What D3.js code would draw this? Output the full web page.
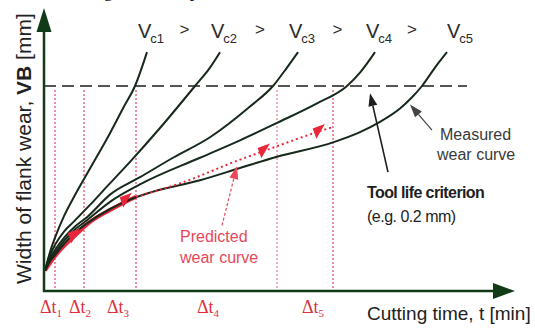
<!DOCTYPE html>
<html>
<head>
<meta charset="utf-8">
<script src="https://cdn.jsdelivr.net/npm/d3@7"></script>
<style>
  html, body { margin: 0; padding: 0; background: #fff; }
  svg { display: block; font-family: "Liberation Sans", Arial, sans-serif; }
</style>
</head>
<body>
<div id="chart"></div>
<script>
// cutting speed index for each measured curve (vc1 > vc2 > ... > vc5)
const speedLabels = ['c1', 'c2', 'c3', 'c4', 'c5'];

// cutting time t [min] and flank wear VB [mm]
const vc1Time = [0.1, 0.6, 1.1, 2.0, 2.9, 4.1, 5.1, 6.6, 8.0, 9.1, 10.3];
const vc1Wear = [0.020, 0.038, 0.052, 0.073, 0.090, 0.111, 0.128, 0.154, 0.180, 0.200, 0.233];
const vc2Time = [0.1, 0.6, 1.1, 2.0, 2.9, 4.6, 6.4, 8.6, 11.6, 15.1, 16.6, 17.6];
const vc2Wear = [0.020, 0.035, 0.045, 0.058, 0.067, 0.084, 0.103, 0.126, 0.159, 0.200, 0.218, 0.233];
const vc3Time = [0.1, 0.6, 1.1, 2.1, 3.1, 4.3, 6.6, 9.6, 12.9, 16.6, 20.6, 22.9, 24.3, 25.4];
const vc3Wear = [0.020, 0.032, 0.040, 0.053, 0.063, 0.072, 0.094, 0.111, 0.130, 0.150, 0.180, 0.200, 0.218, 0.233];
const vc4Time = [0.1, 0.6, 1.1, 2.1, 3.1, 4.3, 6.6, 9.6, 15.6, 19.6, 23.3, 27.3, 30.3, 31.6, 33.1];
const vc4Wear = [0.020, 0.030, 0.037, 0.050, 0.060, 0.069, 0.087, 0.104, 0.130, 0.147, 0.164, 0.183, 0.200, 0.213, 0.233];
const vc5Time = [0.1, 0.6, 1.1, 2.1, 3.1, 4.3, 6.6, 8.3, 10.6, 15.6, 19.6, 23.3, 28.9, 31.6, 33.6, 35.6, 36.8, 37.8, 39.1, 40.3];
const vc5Wear = [0.020, 0.029, 0.035, 0.047, 0.057, 0.066, 0.080, 0.088, 0.096, 0.108, 0.120, 0.131, 0.145, 0.155, 0.165, 0.178, 0.189, 0.200, 0.218, 0.233];

// predicted wear curve: measured part, then extrapolated (dotted)
const predTime = [0.1, 1.1, 3.1, 4.3, 6.6, 9.2];
const predWear = [0.020, 0.034, 0.054, 0.065, 0.079, 0.092];
const extraTime = [9.2, 13.6, 19.3, 22.1, 27.6, 28.9];
const extraWear = [0.092, 0.105, 0.127, 0.137, 0.156, 0.160];
const predArrowTime = [3.1, 8.3, 22.1, 27.6];
const predArrowWear = [0.054, 0.089, 0.137, 0.156];

// time intervals
const intervalEnds = [1.1, 4.0, 9.2, 23.3, 28.9];
const intervalNames = ['1', '2', '3', '4', '5'];
const intervalLabelTime = [0.7, 3.6, 7.4, 16.4, 26.9];

const criterionWear = 0.2;
const timeMax = 47.1;
const wearMax = 0.276;

const width = 535, height = 329;
const axisColor = '#113a16';
const curveColor = '#16291a';
const red = '#e8283a';

const svg = d3.select('#chart').append('svg')
  .attr('width', width)
  .attr('height', height);

const x = d3.scaleLinear().domain([0, 45]).range([44, 494]);
const y = d3.scaleLinear().domain([0, criterionWear]).range([291, 86]);

// caption line above the figure, cropped by the picture's top edge
svg.append('text')
  .attr('x', 27).attr('y', -3)
  .style('font-family', '"Liberation Serif", "Times New Roman", serif')
  .style('font-size', '18px')
  .attr('fill', '#111')
  .text('Tool wear growth and prediction');

// tool life criterion
svg.append('line')
  .attr('x1', x(0)).attr('x2', x(42.3))
  .attr('y1', y(criterionWear)).attr('y2', y(criterionWear))
  .attr('stroke', '#555').attr('stroke-width', 2)
  .attr('stroke-dasharray', '12,6');

// interval boundaries
svg.selectAll('line.interval')
  .data(intervalEnds)
  .enter()
  .append('line')
  .attr('class', 'interval')
  .attr('x1', d => x(d)).attr('x2', d => x(d))
  .attr('y1', y(0.196)).attr('y2', y(0))
  .attr('stroke', (d, i) => i === 3 ? '#eb8a96' : '#e8506a')
  .attr('stroke-width', 1.3)
  .attr('stroke-dasharray', '2,2');

// measured wear curves
const line = d3.line()
  .x(d => x(d[0]))
  .y(d => y(d[1]))
  .curve(d3.curveMonotoneX);

const curves = [
  d3.zip(vc1Time, vc1Wear),
  d3.zip(vc2Time, vc2Wear),
  d3.zip(vc3Time, vc3Wear),
  d3.zip(vc4Time, vc4Wear),
  d3.zip(vc5Time, vc5Wear)
];

// predicted curve, under the measured ones
svg.append('path')
  .attr('d', line(d3.zip(predTime, predWear)))
  .attr('fill', 'none')
  .attr('stroke', red)
  .attr('stroke-width', 4);

svg.selectAll('path.curve')
  .data(curves)
  .enter()
  .append('path')
  .attr('class', 'curve')
  .attr('d', line)
  .attr('fill', 'none')
  .attr('stroke', curveColor)
  .attr('stroke-width', 2);

svg.append('path')
  .attr('d', line(d3.zip(extraTime, extraWear)))
  .attr('fill', 'none')
  .attr('stroke', red)
  .attr('stroke-width', 2)
  .attr('stroke-dasharray', '2,3');

// small red arrow heads pointing back along the predicted curve
const arrowPts = d3.zip(predArrowTime, predArrowWear);
svg.selectAll('path.parrow')
  .data(arrowPts)
  .enter()
  .append('path')
  .attr('class', 'parrow')
  .attr('d', 'M-6,-5 L7,-5 L-6,6 Z')
  .attr('transform', d => `translate(${x(d[0])},${y(d[1])}) rotate(-20)`)
  .attr('fill', red);

// axes with arrow heads
svg.append('line')
  .attr('x1', x(0)).attr('x2', x(0))
  .attr('y1', y(0) + 1).attr('y2', y(wearMax) + 20)
  .attr('stroke', axisColor).attr('stroke-width', 2.5);
svg.append('line')
  .attr('x1', x(0) - 1).attr('x2', x(timeMax) - 20)
  .attr('y1', y(0)).attr('y2', y(0))
  .attr('stroke', axisColor).attr('stroke-width', 2.5);
svg.append('path')
  .attr('d', `M${x(0)},${y(wearMax)} L${x(0) + 7.5},${y(wearMax) + 24} L${x(0) - 7.5},${y(wearMax) + 24} Z`)
  .attr('fill', axisColor);
svg.append('path')
  .attr('d', `M${x(timeMax)},${y(0)} L${x(timeMax) - 22},${y(0) - 8} L${x(timeMax) - 22},${y(0) + 8} Z`)
  .attr('fill', axisColor);

// axis titles
svg.append('text')
  .attr('transform', `translate(31,284) rotate(-90)`)
  .style('font-size', '21px')
  .attr('fill', '#222')
  .html('Width of flank wear, <tspan font-weight="bold">VB</tspan> [mm]');

svg.append('text')
  .attr('x', x(32.3)).attr('y', 320)
  .style('font-size', '19px')
  .attr('fill', '#222')
  .text('Cutting time, t [min]');

// interval labels
const ivl = svg.selectAll('text.ivl')
  .data(intervalNames)
  .enter()
  .append('text')
  .attr('class', 'ivl')
  .attr('x', (d, i) => x(intervalLabelTime[i]))
  .attr('y', 313)
  .attr('text-anchor', 'middle')
  .style('font-family', '"Liberation Serif", "Times New Roman", serif')
  .style('font-size', '18px')
  .attr('fill', '#e0303e');
ivl.append('tspan').text('\u0394t');
ivl.append('tspan').attr('dy', 4).style('font-size', '11px').text(d => d);

// speed labels above each curve
const vlab = svg.selectAll('text.vlab')
  .data(speedLabels)
  .enter()
  .append('text')
  .attr('class', 'vlab')
  .attr('x', (d, i) => x(curves[i][curves[i].length - 1][0]) - (i === 4 ? 0 : 9))
  .attr('y', 38)
  .style('font-size', '20px')
  .attr('fill', '#2a2a2a');
vlab.append('tspan').text('V');
vlab.append('tspan').attr('dy', 5).attr('dx', -1).style('font-size', '13px').text(d => d);

svg.selectAll('text.gt')
  .data(speedLabels.slice(1))
  .enter()
  .append('text')
  .attr('class', 'gt')
  .attr('x', (d, i) => (x(curves[i][curves[i].length - 1][0]) + x(curves[i + 1][curves[i + 1].length - 1][0])) / 2 + 1)
  .attr('y', 35)
  .attr('text-anchor', 'middle')
  .style('font-size', '17px')
  .attr('fill', '#2a2a2a')
  .text('>');

// pointers
function pointer(t0, w0, t1, w1, color, dash, sw) {
  const x0 = x(t0), y0 = y(w0), x1 = x(t1), y1 = y(w1);
  const a = Math.atan2(y1 - y0, x1 - x0);
  const len = 13, hw = 4.5;
  const bx = x1 - len * Math.cos(a), by = y1 - len * Math.sin(a);
  svg.append('line')
    .attr('x1', x0).attr('y1', y0).attr('x2', bx).attr('y2', by)
    .attr('stroke', color).attr('stroke-width', sw)
    .attr('stroke-dasharray', dash);
  svg.append('path')
    .attr('d', `M${x1},${y1} L${bx + hw * Math.sin(a)},${by - hw * Math.cos(a)} L${bx - hw * Math.sin(a)},${by + hw * Math.cos(a)} Z`)
    .attr('fill', color);
}
pointer(34.4, 0.116, 32.6, 0.193, '#1d1d1d', null, 1.6);
pointer(38.8, 0.157, 36.6, 0.182, '#444', null, 1.2);
pointer(17.8, 0.064, 19.3, 0.122, '#e8485a', '3,2', 1.2);

// annotation texts
svg.append('text')
  .attr('x', x(39.6)).attr('y', 140)
  .style('font-size', '16px')
  .attr('fill', '#3a3a3a')
  .text('Measured');
svg.append('text')
  .attr('x', x(39.3)).attr('y', 160)
  .style('font-size', '16px')
  .attr('fill', '#3a3a3a')
  .text('wear curve');

svg.append('text')
  .attr('x', x(32.3)).attr('y', 198)
  .style('font-size', '16px')
  .style('letter-spacing', '-0.6px')
  .style('font-weight', 'bold')
  .attr('fill', '#1e1e1e')
  .text('Tool life criterion');
svg.append('text')
  .attr('x', x(32.3)).attr('y', 222)
  .style('font-size', '16px')
  .style('letter-spacing', '-0.5px')
  .attr('fill', '#1e1e1e')
  .text('(e.g. 0.2 mm)');

svg.append('text')
  .attr('x', x(13.6)).attr('y', 242)
  .style('font-size', '16px')
  .attr('fill', '#e8485a')
  .text('Predicted');
svg.append('text')
  .attr('x', x(13.6)).attr('y', 263)
  .style('font-size', '16px')
  .attr('fill', '#e8485a')
  .text('wear curve');
</script>
</body>
</html>
